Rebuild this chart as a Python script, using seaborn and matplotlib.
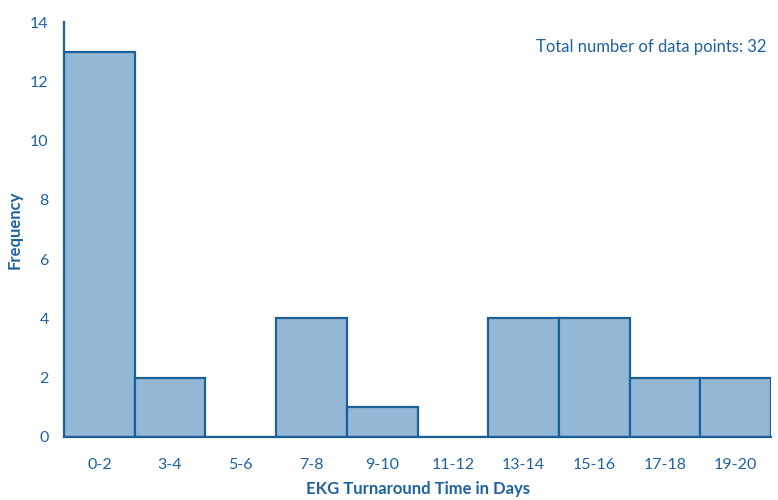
import matplotlib
matplotlib.use("Agg")
import matplotlib.pyplot as plt
import seaborn as sns
import pandas as pd

# histogram data
bins = ["0-2", "3-4", "5-6", "7-8", "9-10", "11-12", "13-14", "15-16", "17-18", "19-20"]
counts = [13, 2, 0, 4, 1, 0, 4, 4, 2, 2]
yticks = [0, 2, 4, 6, 8, 10, 12, 14]

TEXT = "#1f62a3"
EDGE = "#1d5f99"
FILL = "#93b8d6"

sns.set_theme(style="white")
plt.rcParams["font.family"] = ["Lato", "DejaVu Sans"]

df = pd.DataFrame({"bin": bins, "count": counts})

fig = plt.figure(figsize=(7.78, 5.0), dpi=100)
ax = fig.add_axes([0.0823, 0.126, 0.9087, 0.830])

sns.barplot(data=df, x="bin", y="count", width=1.0, color=FILL,
            edgecolor=EDGE, linewidth=1.6, saturation=1, ax=ax)

ax.set_xlim(-0.5, len(bins) - 0.5)
ax.set_ylim(0, 14)
ax.set_yticks(yticks)
ax.tick_params(axis="both", length=0, colors=TEXT, labelsize=11.5)
ax.tick_params(axis="x", pad=15)
ax.tick_params(axis="y", pad=11)
for lab in ax.get_xticklabels() + ax.get_yticklabels():
    lab.set_color(TEXT)

ax.set_xlabel("EKG Turnaround Time in Days", color=TEXT, fontsize=12,
              fontweight="bold")
ax.xaxis.set_label_coords(0.5, -0.106)
ax.set_ylabel("Frequency", color=TEXT, fontsize=12, fontweight="bold")
ax.yaxis.set_label_coords(-0.059, 0.5)

sns.despine(ax=ax)
for side in ["left", "bottom"]:
    ax.spines[side].set_color(EDGE)
    ax.spines[side].set_linewidth(1.6)

ax.text(0.994, 0.94, "Total number of data points: %d" % sum(counts),
        transform=ax.transAxes, ha="right", va="center", color=TEXT,
        fontsize=12)

fig.savefig("out.png", dpi=100)
